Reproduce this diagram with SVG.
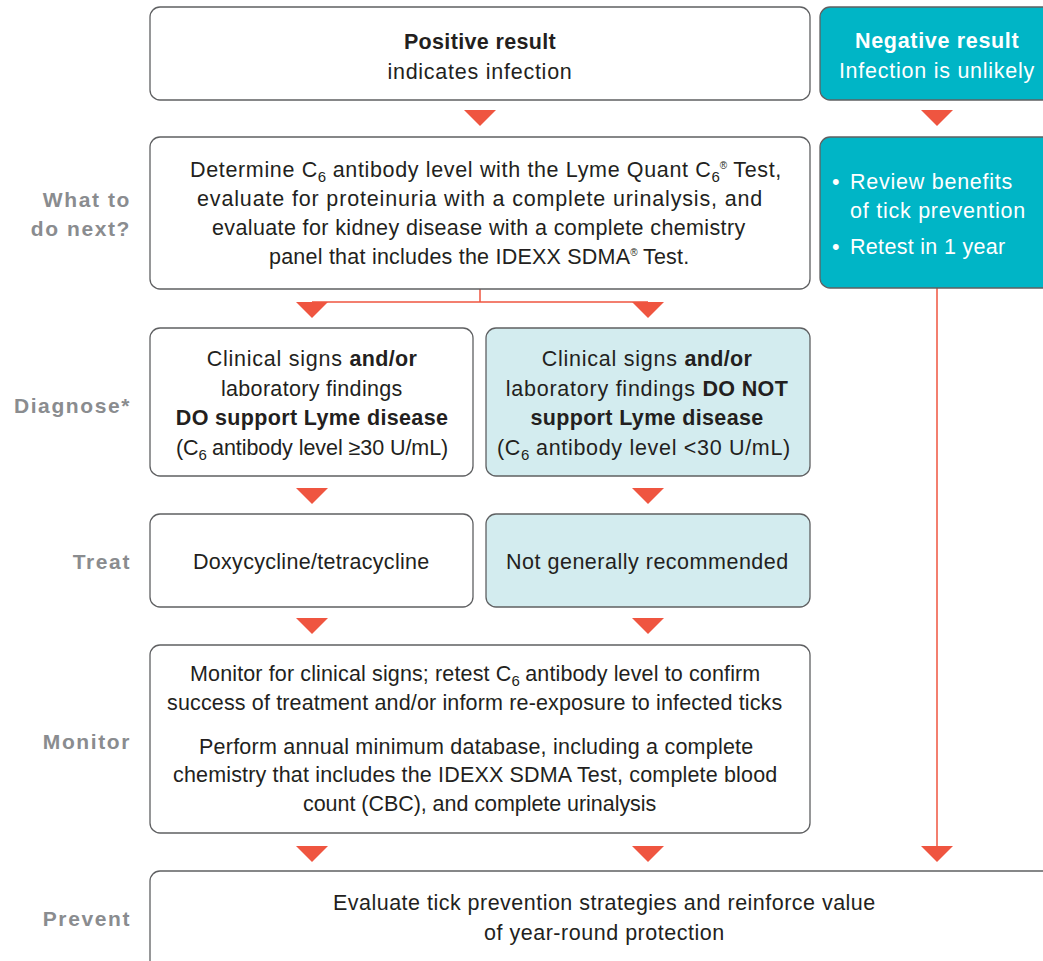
<svg xmlns="http://www.w3.org/2000/svg" width="1043" height="961" viewBox="0 0 1043 961">
<style>
text{font-family:"Liberation Sans",Arial,sans-serif;font-size:21.5px;letter-spacing:0.75px;fill:#231f20}
.c{text-anchor:middle}
.b{font-weight:bold;letter-spacing:0.35px}
.lbl{font-weight:bold;fill:#8a8c8f;text-anchor:end;font-size:21px;letter-spacing:1.6px}
.box{fill:#fff;stroke:#5f6062;stroke-width:1.3}
.teal{fill:#00b5c6;stroke:#5f6062;stroke-width:1.3}
.lt{fill:#d3ecef;stroke:#5f6062;stroke-width:1.3}
.w{fill:#fff}
.arr{fill:#ef5540}
.ln{stroke:#ef5540;stroke-width:1.5;fill:none}
.sub{font-size:15px;letter-spacing:0}
.sup{font-size:10px;letter-spacing:0}
</style>
<g id="labels">
<text class="lbl" x="131" y="207">What to</text>
<text class="lbl" x="131" y="236">do next?</text>
<text class="lbl" x="131" y="413">Diagnose*</text>
<text class="lbl" x="131" y="569">Treat</text>
<text class="lbl" x="131" y="749">Monitor</text>
<text class="lbl" x="131" y="926">Prevent</text>
</g>
<g id="connectors">
<path class="ln" d="M480 289V302M312 302H648M937 288V848"/>
<polygon class="arr" points="464,110 496,110 480,126"/>
<polygon class="arr" points="921,110 953,110 937,126"/>
<polygon class="arr" points="296,302 328,302 312,318"/>
<polygon class="arr" points="632,302 664,302 648,318"/>
<polygon class="arr" points="296,488 328,488 312,504"/>
<polygon class="arr" points="632,488 664,488 648,504"/>
<polygon class="arr" points="296,618 328,618 312,634"/>
<polygon class="arr" points="632,618 664,618 648,634"/>
<polygon class="arr" points="296,846 328,846 312,862"/>
<polygon class="arr" points="632,846 664,846 648,862"/>
<polygon class="arr" points="921,846 953,846 937,862"/>
</g>
<g id="positive">
<rect class="box" x="150" y="7" width="660" height="93" rx="10"/>
<text class="c b" x="480" y="49">Positive result</text>
<text class="c" x="480" y="79">indicates infection</text>
</g>
<g id="negative">
<rect class="teal" x="820" y="7" width="240" height="93" rx="10"/>
<text class="c b w" x="937" y="48" textLength="164">Negative result</text>
<text class="c w" x="937" y="78">Infection is unlikely</text>
</g>
<g id="next">
<rect class="box" x="150" y="137" width="660" height="152" rx="10"/>
<text class="c" x="486" y="177" textLength="592">Determine C<tspan class="sub" dy="5">6</tspan><tspan dy="-5"> antibody level with the Lyme Quant C</tspan><tspan class="sub" dy="5">6</tspan><tspan class="sup" dy="-13">®</tspan><tspan dy="8"> Test,</tspan></text>
<text class="c" x="480" y="206" textLength="566">evaluate for proteinuria with a complete urinalysis, and</text>
<text class="c" x="479" y="235" textLength="534">evaluate for kidney disease with a complete chemistry</text>
<text class="c" x="479.5" y="264" textLength="421">panel that includes the IDEXX SDMA<tspan class="sup" dy="-8">®</tspan><tspan dy="8"> Test.</tspan></text>
</g>
<g id="negnext">
<rect class="teal" x="820" y="137" width="240" height="151" rx="10"/>
<text class="w" x="832" y="189">•</text>
<text class="w" x="850" y="189">Review benefits</text>
<text class="w" x="850" y="218">of tick prevention</text>
<text class="w" x="832" y="254">•</text>
<text class="w" x="850" y="254" textLength="156">Retest in 1 year</text>
</g>
<g id="diag-yes">
<rect class="box" x="150" y="328" width="323" height="148" rx="10"/>
<text class="c" x="312" y="366">Clinical signs <tspan class="b">and/or</tspan></text>
<text class="c" x="312" y="396" textLength="182">laboratory findings</text>
<text class="c b" x="312" y="425">DO support Lyme disease</text>
<text class="c" x="312.5" y="455" textLength="273">(C<tspan class="sub" dy="5">6</tspan><tspan dy="-5"> antibody level ≥30 U/mL)</tspan></text>
</g>
<g id="diag-no">
<rect class="lt" x="486" y="328" width="324" height="148" rx="10"/>
<text class="c" x="647" y="366">Clinical signs <tspan class="b">and/or</tspan></text>
<text class="c" x="647" y="396">laboratory findings <tspan class="b">DO NOT</tspan></text>
<text class="c b" x="647" y="425">support Lyme disease</text>
<text class="c" x="644" y="455" textLength="294">(C<tspan class="sub" dy="5">6</tspan><tspan dy="-5"> antibody level &lt;30 U/mL)</tspan></text>
</g>
<g id="treat-yes">
<rect class="box" x="150" y="514" width="323" height="93" rx="10"/>
<text class="c" x="311.5" y="569" textLength="237">Doxycycline/tetracycline</text>
</g>
<g id="treat-no">
<rect class="lt" x="486" y="514" width="324" height="93" rx="10"/>
<text class="c" x="647.5" y="569" textLength="283">Not generally recommended</text>
</g>
<g id="monitor">
<rect class="box" x="150" y="645" width="660" height="188" rx="10"/>
<text class="c" x="475.5" y="681" textLength="571">Monitor for clinical signs; retest C<tspan class="sub" dy="5">6</tspan><tspan dy="-5"> antibody level to confirm</tspan></text>
<text class="c" x="475" y="710" textLength="616">success of treatment and/or inform re-exposure to infected ticks</text>
<text class="c" x="476.5" y="754" textLength="555">Perform annual minimum database, including a complete</text>
<text class="c" x="475.5" y="782" textLength="605">chemistry that includes the IDEXX SDMA Test, complete blood</text>
<text class="c" x="480" y="811" textLength="354">count (CBC), and complete urinalysis</text>
</g>
<g id="prevent">
<rect class="box" x="150" y="871" width="910" height="110" rx="10"/>
<text class="c" x="604.5" y="910" textLength="543">Evaluate tick prevention strategies and reinforce value</text>
<text class="c" x="604.5" y="940" textLength="241">of year-round protection</text>
</g>
</svg>
